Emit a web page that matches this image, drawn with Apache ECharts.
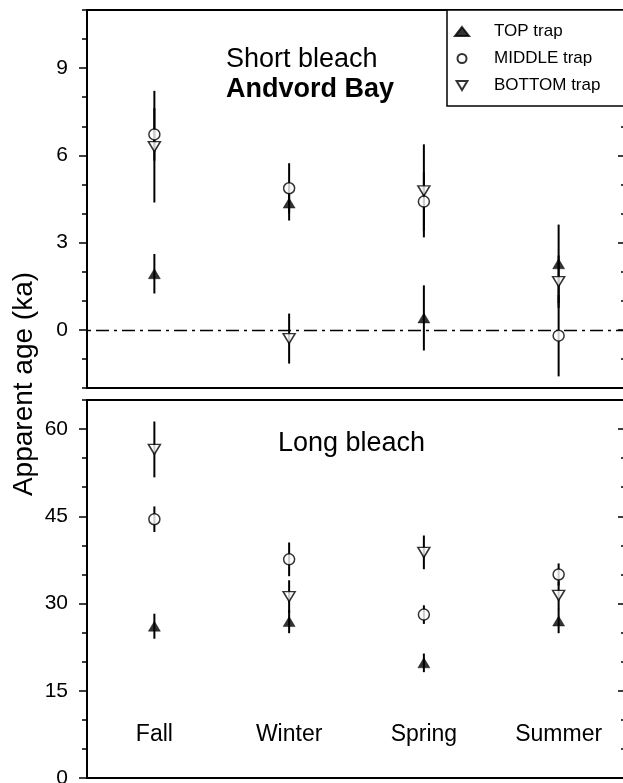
<!DOCTYPE html>
<html>
<head>
<meta charset="utf-8">
<script src="https://cdn.jsdelivr.net/npm/echarts@6/dist/echarts.min.js"></script>
<style>
  html, body { margin: 0; padding: 0; background: #fff; }
  #chart { width: 623px; height: 783px; }
</style>
</head>
<body>
<div id="chart"></div>
<script>
// Seasons sampled by the sediment traps
const seasons = ['Fall', 'Winter', 'Spring', 'Summer'];

// Short bleach apparent ages (ka) and their uncertainties
const shortTop = [1.93, 4.36, 0.41, 2.27];
const shortTopErr = [0.68, 0.6, 1.12, 1.35];
const shortMid = [6.72, 4.87, 4.41, -0.2];
const shortMidErr = [0.9, 0.86, 1.0, 1.4];
const shortBot = [6.3, -0.3, 4.78, 1.66];
const shortBotErr = [1.92, 0.86, 1.6, 0.9];

// Long bleach apparent ages (ka) and their uncertainties
const longTop = [26.1, 26.9, 19.8, 27.0];
const longTopErr = [2.15, 2.0, 1.6, 2.1];
const longMid = [44.5, 37.6, 28.1, 35.0];
const longMidErr = [2.2, 2.9, 1.6, 1.9];
const longBot = [56.5, 31.2, 38.8, 31.4];
const longBotErr = [4.8, 2.8, 2.9, 2.4];

// Axis tick labels
const shortTicks = [0, 3, 6, 9];
const longTicks = [0, 15, 30, 45, 60];

const FONT = 'Liberation Sans, Arial, Helvetica, sans-serif';
const INV_TRIANGLE = 'path://M0,0 L12,0 L6,10 Z';

const trapStyles = {
  'TOP trap': { symbol: 'triangle', symbolSize: [12, 10], itemStyle: { color: '#000', borderColor: '#000', borderWidth: 0.5 } },
  'MIDDLE trap': { symbol: 'circle', symbolSize: 11, itemStyle: { color: '#fff', borderColor: '#000', borderWidth: 1.5 } },
  'BOTTOM trap': { symbol: INV_TRIANGLE, symbolSize: [12, 10], itemStyle: { color: '#fff', borderColor: '#000', borderWidth: 1.5 } }
};

function points(name, grid, vals) {
  const s = trapStyles[name];
  return {
    type: 'scatter', name: name, xAxisIndex: grid, yAxisIndex: grid * 4,
    symbol: s.symbol, symbolSize: s.symbolSize, itemStyle: s.itemStyle,
    data: vals, z: 5, silent: true
  };
}

function errorBars(grid, vals, errs) {
  return {
    type: 'custom', xAxisIndex: grid, yAxisIndex: grid * 4, z: 3, silent: true,
    data: vals.map((v, i) => [i, v - errs[i], v + errs[i]]),
    encode: { x: 0, y: [1, 2] },
    renderItem: function (params, api) {
      const a = api.coord([api.value(0), api.value(1)]);
      const b = api.coord([api.value(0), api.value(2)]);
      return { type: 'line', shape: { x1: a[0], y1: a[1], x2: b[0], y2: b[1] }, style: { stroke: '#000', lineWidth: 2 } };
    }
  };
}

// four y axes per panel: labelled major ticks and minor ticks, left (outward) and right (inward)
function panelAxes(grid, min, max, majors, minorStep) {
  const base = { gridIndex: grid, type: 'value', min: min, max: max, axisLine: { show: false }, splitLine: { show: false } };
  return [
    Object.assign({}, base, {
      position: 'left',
      axisTick: { show: true, customValues: majors, length: 8, lineStyle: { color: '#000', width: 1.5 } },
      axisLabel: { customValues: majors, margin: 19, fontSize: 21, color: '#000', fontFamily: FONT }
    }),
    Object.assign({}, base, {
      position: 'left', interval: minorStep,
      axisTick: { show: true, length: 5, lineStyle: { color: '#000', width: 1.5 } },
      axisLabel: { show: false }
    }),
    Object.assign({}, base, {
      position: 'right',
      axisTick: { show: true, inside: true, customValues: majors, length: 8, lineStyle: { color: '#000', width: 1.5 } },
      axisLabel: { show: false }
    }),
    Object.assign({}, base, {
      position: 'right', interval: minorStep,
      axisTick: { show: true, inside: true, length: 5, lineStyle: { color: '#000', width: 1.5 } },
      axisLabel: { show: false }
    })
  ];
}

const chart = echarts.init(document.getElementById('chart'), null, { renderer: 'canvas' });

const zeroLine = {
  silent: true, symbol: 'none', label: { show: false },
  lineStyle: { color: '#000', width: 1.3, type: [13, 5, 3, 5], dashOffset: 17 },
  data: [{ yAxis: 0 }]
};

const topSeries = points('TOP trap', 0, shortTop);
topSeries.markLine = zeroLine;

chart.setOption({
  animation: false,
  backgroundColor: '#fff',
  grid: [
    { left: 87, top: 10, width: 539, height: 378, show: true, borderColor: '#000', borderWidth: 2, containLabel: false, outerBoundsMode: 'none' },
    { left: 87, top: 400, width: 539, height: 378, show: true, borderColor: '#000', borderWidth: 2, containLabel: false, outerBoundsMode: 'none' }
  ],
  xAxis: [
    { gridIndex: 0, type: 'category', data: seasons, axisLine: { show: false }, axisTick: { show: false }, axisLabel: { show: false }, splitLine: { show: false } },
    { gridIndex: 1, type: 'category', data: seasons, axisLine: { show: false }, axisTick: { show: false }, splitLine: { show: false },
      axisLabel: { inside: true, interval: 0, margin: 43, verticalAlign: 'middle', fontSize: 23, color: '#000', fontFamily: FONT } }
  ],
  yAxis: panelAxes(0, -2, 11, shortTicks, 1).concat(panelAxes(1, 0, 65, longTicks, 5)),
  legend: {
    orient: 'vertical', left: 447, top: 10, selectedMode: false, z: 20,
    data: ['TOP trap', 'MIDDLE trap', 'BOTTOM trap'],
    itemWidth: 14, itemHeight: 9, itemGap: 10,
    padding: [13, 10, 11, 7],
    borderWidth: 0, backgroundColor: 'transparent',
    textStyle: { fontSize: 17, lineHeight: 17, color: '#000', fontFamily: FONT, padding: [0, 0, 0, 20] }
  },
  graphic: [
    // legend frame, running off the right edge like the plot frames
    { type: 'rect', z: 10, shape: { x: 447, y: 10, width: 200, height: 96 }, style: { fill: '#fff', stroke: '#000', lineWidth: 1.5 } },
    { type: 'text', x: 24, y: 384, rotation: Math.PI / 2, style: { text: 'Apparent age (ka)', fontSize: 28, fontFamily: FONT, fill: '#000', align: 'center', verticalAlign: 'middle' } },
    { type: 'text', x: 226, y: 60, style: { text: 'Short bleach', fontSize: 27, fontFamily: FONT, fill: '#000', align: 'left', verticalAlign: 'middle' } },
    { type: 'text', x: 226, y: 90, style: { text: 'Andvord Bay', fontSize: 27, fontWeight: 'bold', fontFamily: FONT, fill: '#000', align: 'left', verticalAlign: 'middle' } },
    { type: 'text', x: 278, y: 444, style: { text: 'Long bleach', fontSize: 27, fontFamily: FONT, fill: '#000', align: 'left', verticalAlign: 'middle' } }
  ],
  series: [
    errorBars(0, shortTop, shortTopErr),
    errorBars(0, shortMid, shortMidErr),
    errorBars(0, shortBot, shortBotErr),
    topSeries,
    points('MIDDLE trap', 0, shortMid),
    points('BOTTOM trap', 0, shortBot),
    errorBars(1, longTop, longTopErr),
    errorBars(1, longMid, longMidErr),
    errorBars(1, longBot, longBotErr),
    points('TOP trap', 1, longTop),
    points('MIDDLE trap', 1, longMid),
    points('BOTTOM trap', 1, longBot)
  ]
});
</script>
</body>
</html>
